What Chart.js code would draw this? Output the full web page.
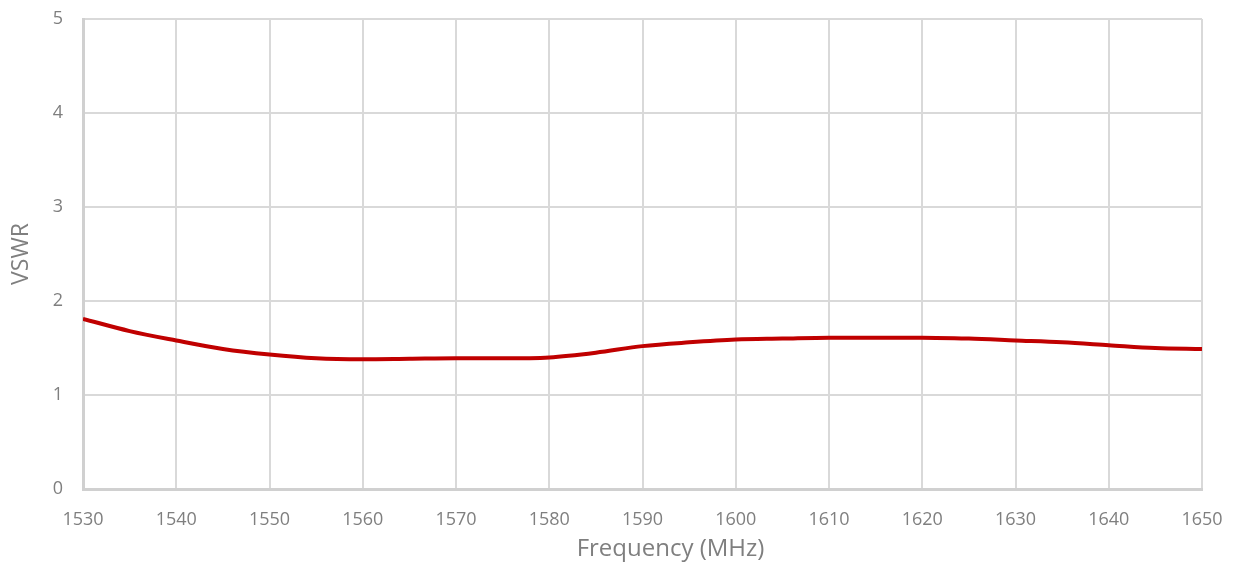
<!DOCTYPE html>
<html>
<head>
<meta charset="utf-8">
<script src="https://cdn.jsdelivr.net/npm/chart.js@4/dist/chart.umd.min.js"></script>
<style>
  html, body { margin: 0; padding: 0; background: #fff; }
  #wrap { width: 1234px; height: 567px; }
</style>
</head>
<body>
<div id="wrap"><canvas id="vswr_chart"></canvas></div>
<script>
// frequency (MHz) and VSWR
const freqs = [1530, 1535, 1540, 1545, 1550, 1555, 1560, 1565, 1570, 1575, 1580, 1585, 1590,
               1595, 1600, 1605, 1610, 1615, 1620, 1625, 1630, 1635, 1640, 1645, 1650];
const vswr = [1.81, 1.68, 1.58, 1.49, 1.43, 1.39, 1.38, 1.385, 1.39, 1.39, 1.40, 1.45, 1.52,
              1.56, 1.59, 1.60, 1.61, 1.61, 1.61, 1.60, 1.58, 1.56, 1.53, 1.50, 1.49];
const xTitle = 'Frequency (MHz)';
const yTitle = 'VSWR';

const gray = '#7f7f7f';
const font = "'Open Sans', 'Liberation Sans', sans-serif";

const points = freqs.map((f, i) => ({x: f, y: vswr[i]}));

// excel puts the x title a bit right of centre, so draw it ourselves
const xTitlePlugin = {
    id: 'xTitle',
    afterDraw(chart) {
        const ctx = chart.ctx;
        const area = chart.chartArea;
        ctx.save();
        ctx.fillStyle = gray;
        ctx.font = `24px ${font}`;
        ctx.textAlign = 'center';
        ctx.textBaseline = 'middle';
        ctx.fillText(xTitle, (area.left + area.right) / 2 + 28, area.bottom + 60);
        ctx.restore();
    }
};

new Chart(document.getElementById('vswr_chart'), {
    type: 'line',
    data: {
        datasets: [{
            data: points,
            borderColor: '#c00000',
            borderWidth: 4,
            pointRadius: 0,
            cubicInterpolationMode: 'monotone',
            fill: false
        }]
    },
    options: {
        responsive: true,
        maintainAspectRatio: false,
        animation: false,
        layout: { padding: { top: 19, right: 32, left: 0, bottom: 0 } },
        plugins: { legend: { display: false }, tooltip: { enabled: false } },
        scales: {
            x: {
                type: 'linear',
                min: 1530,
                max: 1650,
                ticks: {
                    stepSize: 10, color: gray, font: { family: font, size: 18 }, padding: 20, maxRotation: 0,
                    callback: v => String(v)
                },
                grid: { color: '#d9d9d9', lineWidth: 2, drawTicks: false },
                border: { color: '#d0d0d0', width: 3 },
                afterFit: scale => {
                    scale.height = 78;
                    scale.paddingLeft = 0;
                    scale.paddingRight = 0;
                }
            },
            y: {
                min: 0,
                max: 5,
                ticks: { stepSize: 1, color: gray, font: { family: font, size: 18 }, padding: 20 },
                grid: { color: '#d9d9d9', lineWidth: 2, drawTicks: false },
                border: { color: '#d0d0d0', width: 3 },
                title: { display: true, text: yTitle, color: gray, font: { family: font, size: 23 }, padding: { top: 8, bottom: 0 } },
                afterFit: scale => {
                    scale.width = 83;
                    scale.paddingTop = 0;
                    scale.paddingBottom = 0;
                }
            }
        }
    },
    plugins: [xTitlePlugin]
});
</script>
</body>
</html>
